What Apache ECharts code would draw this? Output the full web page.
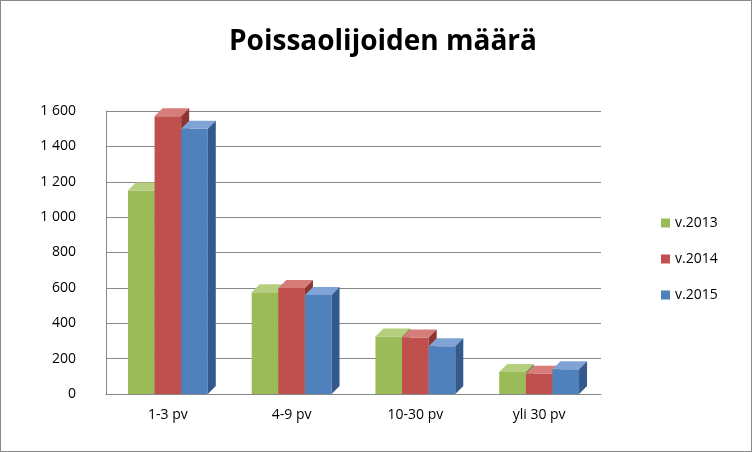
<!DOCTYPE html>
<html><head><meta charset="utf-8">
<script src="https://cdn.jsdelivr.net/npm/echarts@6/dist/echarts.min.js"></script>
<style>html,body{margin:0;padding:0;background:#fff}#c{width:752px;height:452px;box-sizing:border-box;border:1px solid #888}</style>
</head><body><div id="c"></div>
<script>
const categories = ['1-3 pv','4-9 pv','10-30 pv','yli 30 pv'];
const seriesNames = ['v.2013','v.2014','v.2015'];
const v2013 = [1150, 575, 325, 125];
const v2014 = [1570, 600, 320, 115];
const v2015 = [1500, 560, 270, 140];
const yTicks = [0,200,400,600,800,1000,1200,1400,1600];
const front = ['#9BBB59','#C0504D','#4F81BD'];
const top_ = ['#B5CF7F','#D67D7A','#7FA3D4'];
const side = ['#6E8A3A','#8E3532','#34598C'];
const data = [v2013, v2014, v2015];
const chart = echarts.init(document.getElementById('c'));
function mk(idx){
  return {
    type:'custom', name:seriesNames[idx], itemStyle:{color:front[idx]},
    data: data[idx].map((v,i)=>[i,v]),
    renderItem:(params,api)=>{
      const c = api.value(0), v = api.value(1);
      const p = api.coord([c, v]), p0 = api.coord([c, 0]);
      const w = api.size([1,0])[0]*0.215;
      const x = p[0] + (idx-1.5)*w;
      const d = 8;
      return {type:'group', children:[
        {type:'rect', shape:{x:x, y:p[1], width:w, height:p0[1]-p[1]}, style:{fill:front[idx]}},
        {type:'polygon', shape:{points:[[x,p[1]],[x+d,p[1]-d],[x+w+d,p[1]-d],[x+w,p[1]]]}, style:{fill:top_[idx]}},
        {type:'polygon', shape:{points:[[x+w,p[1]],[x+w+d,p[1]-d],[x+w+d,p0[1]-d],[x+w,p0[1]]]}, style:{fill:side[idx]}}
      ]};
    }
  };
}
chart.setOption({
  animation:false,
  title:{text:'Poissaolijoiden määrä', left:377, top:22, textAlign:'center',
    textStyle:{fontFamily:'Open Sans', fontSize:28, fontWeight:'bold', color:'#000'}},
  legend:{orient:'vertical', left:655, top:210, itemGap:22, itemWidth:9, itemHeight:9,
    icon:'rect', data:seriesNames, textStyle:{fontFamily:'Open Sans', fontSize:14, color:'#000'}},
  grid:{left:105, right:150, top:110, bottom:57},
  xAxis:{type:'category', data:categories, axisTick:{show:false},
    axisLine:{lineStyle:{color:'#888'}},
    axisLabel:{fontFamily:'Open Sans', fontSize:14, color:'#000', margin:14}},
  yAxis:{type:'value', min:0, max:1600, interval:200,
    axisLine:{show:true, lineStyle:{color:'#888'}},
    splitLine:{lineStyle:{color:'#888'}},
    axisLabel:{fontFamily:'Open Sans', fontSize:14, color:'#000', margin:30,
      formatter:v=>yTicks.includes(v)?String(v).replace(/\B(?=(\d{3})+$)/g,' '):''}},
  series:[mk(0),mk(1),mk(2)]
});
</script></body></html>
